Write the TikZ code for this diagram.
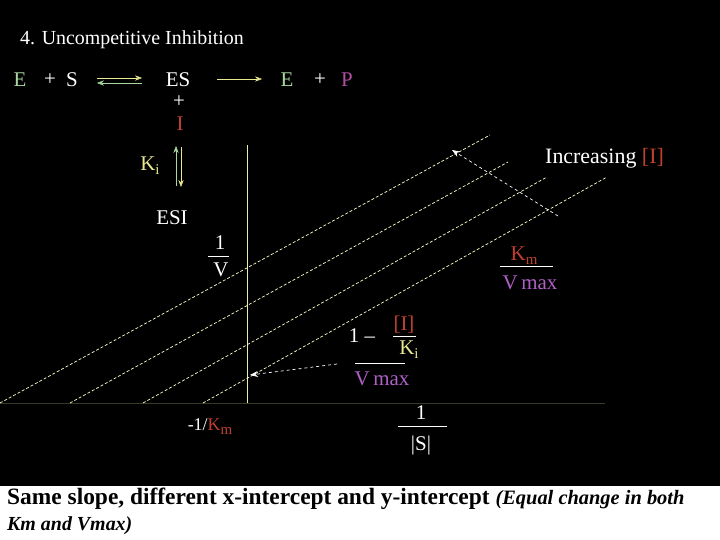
\documentclass[tikz,border=0pt]{standalone}
\usepackage{fontspec}
\setmainfont{Liberation Serif}
\usetikzlibrary{arrows.meta}
\definecolor{eg}{HTML}{A8D8A0}
\definecolor{pp}{HTML}{B050A0}
\definecolor{ir}{HTML}{C04030}
\definecolor{ky}{HTML}{E8E890}
\definecolor{vm}{HTML}{B060C8}
\definecolor{ln}{HTML}{FFFFD0}
\newcommand{\sub}[1]{\raisebox{-4pt}{\fontsize{15}{16}\selectfont #1}}
\begin{document}
\begin{tikzpicture}[x=1bp,y=-1bp,
  txt/.style={text=white,font=\fontsize{21}{24}\selectfont,inner sep=0pt},
  dl/.style={ln,densely dashed,line width=0.7pt},
  ar/.style={white,dashed,line width=0.7pt,-{Stealth[length=8pt]}},
  bar/.style={white,line width=0.7pt}]
\fill[black] (0,0) rectangle (720,486);
\fill[white] (0,486) rectangle (720,540);
\useasboundingbox (0,0) rectangle (720,540);
\node[txt,anchor=west,font=\fontsize{20}{22}\selectfont] (title) at (20,40) {4. Uncompetitive Inhibition};
% reaction
\node[txt,text=eg] (e1) at (20,80) {E};
\node[txt] (p1) at (50,80) {+};
\node[txt] (s) at (72,80) {S};
\node[txt] (es) at (178,80) {ES};
\node[txt,text=eg] (e2) at (287,80) {E};
\node[txt] (p2) at (320,80) {+};
\node[txt,text=pp] (p) at (347,80) {P};
\draw[ky,-{Stealth[length=7pt]}] (97,78) -- (142,78);
\draw[eg,{Stealth[length=7pt]}-] (97,83) -- (142,83);
\draw[ky,-{Stealth[length=7pt]}] (217,79) -- (262,79);
\node[txt] (plus) at (179,102) {+};
\node[txt,text=ir] (i) at (180,124) {I};
\node[txt,text=ky] (ki) at (150,166) {K\sub{i}};
\draw[eg,-{Stealth[length=7pt]}] (176,186) -- (176,146);
\draw[ky,-{Stealth[length=7pt]}] (181,147) -- (181,187);
\node[txt] (esi) at (172,218) {ESI};
% axes
\draw[ky!80!white,line width=0.8pt] (247,145) -- (247,403);
\draw[ky!25!black,line width=0.6pt] (0,403) -- (605,403);
% lines
\coordinate (a1) at (0,403); \coordinate (b1) at (490,135);
\coordinate (a2) at (70,403); \coordinate (b2) at (508,162);
\coordinate (a3) at (143,403); \coordinate (b3) at (547,177);
\coordinate (a4) at (203,403); \coordinate (b4) at (607,177);
\draw[dl] (a1) -- (b1); \draw[dl] (a2) -- (b2);
\draw[dl] (a3) -- (b3); \draw[dl] (a4) -- (b4);
\coordinate (u0) at (558,216); \coordinate (u1) at (452,150);
\draw[ar] (u0) -- (u1);
\coordinate (w0) at (337,364); \coordinate (w1) at (250,375);
\draw[ar] (w0) -- (w1);
\node[txt,anchor=west,font=\fontsize{22}{24}\selectfont] (inc) at (545,158) {Increasing \textcolor{ir}{[I]}};
% 1/V
\node[txt] (one) at (220,243) {1};
\draw[bar] (208,256) -- (229,256);
\node[txt] (v) at (221,270) {V};
% Km/Vmax
\node[txt,text=ir] (km) at (524,256) {K\sub{m}};
\draw[bar] (500,266) -- (553,266);
\node[txt,text=vm] (vmx) at (530,283) {V\,max};
% 1 - [I]/Ki / Vmax
\node[txt] (onem) at (362,336) {1 --};
\node[txt,text=ir] (ii) at (404,325) {[I]};
\draw[bar] (393,336) -- (416,336);
\node[txt,text=ky] (ki2) at (409,350) {K\sub{i}};
\draw[bar] (355,363) -- (405,363);
\node[txt,text=vm] (vmx2) at (382,379) {V\,max};
% x labels
\node[txt,font=\fontsize{18}{20}\selectfont] (xint) at (210,427) {-1/\textcolor{ir}{K\sub{m}}};
\node[txt] (onex) at (421,413) {1};
\draw[bar] (398,426) -- (447,426);
\node[txt] (sx) at (421,445) {|S|};
% caption
\node[anchor=west,inner sep=0pt,font=\bfseries\fontsize{23.5}{25}\selectfont] (cap1) at (7,499) {Same slope, different x-intercept and y-intercept \textit{\fontsize{20.5}{22}\selectfont(Equal change in both}};
\node[anchor=west,inner sep=0pt,font=\bfseries\itshape\fontsize{20}{22}\selectfont] (cap2) at (7,526) {Km and Vmax)};
\end{tikzpicture}
\end{document}
